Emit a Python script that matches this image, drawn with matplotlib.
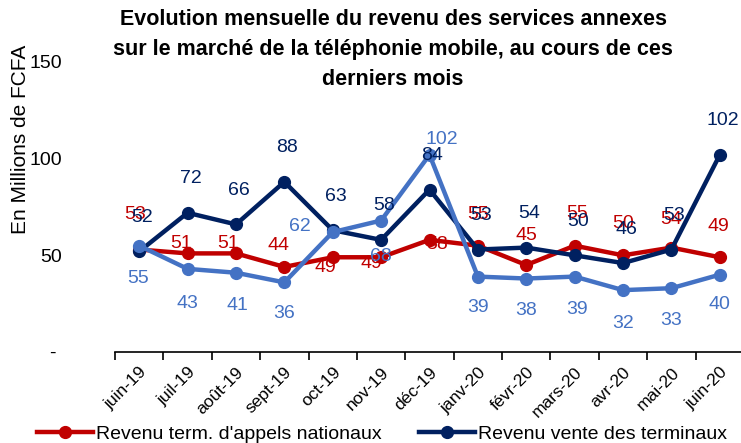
import matplotlib.pyplot as plt
import numpy as np

months = ['juin-19', 'juil-19', 'août-19', 'sept-19', 'oct-19', 'nov-19', 'déc-19',
          'janv-20', 'févr-20', 'mars-20', 'avr-20', 'mai-20', 'juin-20']
appels_nationaux = [53, 51, 51, 44, 49, 49, 58, 55, 45, 55, 50, 54, 49]
vente_terminaux = [52, 72, 66, 88, 63, 58, 84, 53, 54, 50, 46, 53, 102]
autre_service = [55, 43, 41, 36, 62, 68, 102, 39, 38, 39, 32, 33, 40]

# label offsets in pixels (dx, dy) for each point
red_off = [(-4, 35), (-6, 10), (-8, 10), (-6, 21), (-7, -10), (-10, -6), (8, -5),
           (0, 31), (0, 29), (2, 32), (0, 32), (0, 28), (-1, 31)]
navy_off = [(3, 34)] * 13
blue_off = [(-1, -33), (0, -35), (1, -33), (0, -31), (-33, 6), (0, -36), (12, 15),
            (0, -31), (0, -32), (2, -33), (0, -33), (0, -32), (0, -30)]

RED = '#C00000'
NAVY = '#002060'
BLUE = '#4472C4'

plt.rcParams['font.family'] = ['Liberation Sans Narrow', 'Liberation Sans', 'DejaVu Sans']

fig = plt.figure(figsize=(7.41, 4.43), dpi=100)
ax = fig.add_axes([115 / 741, 1 - 352 / 443, 629 / 741, 290 / 443])

x = np.arange(len(months))
series = [(appels_nationaux, RED, red_off, "Revenu term. d'appels nationaux"),
          (vente_terminaux, NAVY, navy_off, 'Revenu vente des terminaux'),
          (autre_service, BLUE, blue_off, None)]

for vals, col, offs, lab in series:
    ax.plot(x, vals, color=col, lw=3.2, marker='o', ms=8.5, label=lab,
            solid_joinstyle='round', clip_on=False)

for vals, col, offs, lab in series:
    for i, v in enumerate(vals):
        ax.annotate(str(v), (x[i], v), xytext=offs[i], textcoords='offset pixels',
                    ha='center', va='center', color=col, fontsize=14,
                    annotation_clip=False)

ax.set_xlim(-0.5, len(months) - 0.5)
ax.set_ylim(0, 150)
ax.set_yticks([0, 50, 100, 150])
ax.set_yticklabels(['- ', '50', '100', '150'], fontsize=14)
ax.tick_params(axis='y', length=0, pad=38)

ax.set_xticks(x)
ax.set_xticklabels(months, rotation=45, ha='right', va='top', rotation_mode='anchor',
                   fontsize=12.5)
ax.tick_params(axis='x', which='major', length=0, pad=9)
ax.set_xticks(np.arange(-0.5, len(months), 1), minor=True)
ax.tick_params(axis='x', which='minor', length=6, width=1.2, direction='out')

for s in ['left', 'top', 'right']:
    ax.spines[s].set_visible(False)
ax.spines['bottom'].set_linewidth(1.2)

fig.text(21 / 741, 1 - 139 / 443, 'En Millions de FCFA', rotation=90,
         ha='center', va='center', fontsize=15)

fig.text(393 / 741, 1 - 9 / 443,
         'Evolution mensuelle du revenu des services annexes\n'
         'sur le marché de la téléphonie mobile, au cours de ces\n'
         'derniers mois',
         ha='center', va='top', fontsize=15.5, fontweight='bold',
         family=['Liberation Sans', 'DejaVu Sans'], linespacing=1.55)

fig.legend(loc='center left', bbox_to_anchor=(27 / 741, 1 - 434 / 443), ncol=2,
           frameon=False, fontsize=14, handlelength=2.9, handletextpad=0.15,
           columnspacing=1.9, borderpad=0)

fig.savefig('out.png', dpi=100)
